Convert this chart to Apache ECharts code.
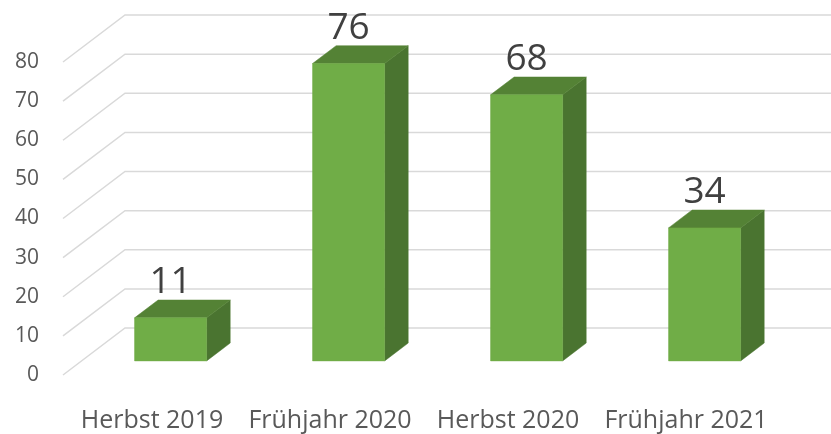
<!DOCTYPE html>
<html>
<head>
<meta charset="utf-8">
<script src="https://cdn.jsdelivr.net/npm/echarts@6/dist/echarts.min.js"></script>
<style>
  html, body { margin: 0; padding: 0; background: #fff; }
  #chart { width: 831px; height: 434px; }
</style>
</head>
<body>
<div id="chart"></div>
<script>
var categories = ['Herbst 2019', 'Frühjahr 2020', 'Herbst 2020', 'Frühjahr 2021'];
var values = [11, 76, 68, 34];
var ticks = [0, 10, 20, 30, 40, 50, 60, 70, 80];

// 3D look: depth vector of the floor, in pixels
var DEPTH_X = 62;
var DEPTH_Y = -47;
var BAR_FRONT = 0.3;   // bar front face depth (fraction)
var BAR_BACK = 0.68;   // bar back face depth
var BAR_WIDTH = 0.405; // share of a category band

var font = '"Open Sans", "Noto Sans", sans-serif';

var chart = echarts.init(document.getElementById('chart'));

// grid lines: side wall diagonal + back wall line
var renderGridLine = function(params, api) {
    var cs = params.coordSys;
    var y = api.coord([0, api.value(1)])[1];
    var x0 = cs.x;
    return {
        type: 'polyline',
        shape: {
            points: [
                [x0, y],
                [x0 + DEPTH_X, y + DEPTH_Y],
                [x0 + cs.width + DEPTH_X + 20, y + DEPTH_Y]
            ]
        },
        style: { stroke: '#d9d9d9', lineWidth: 1.5, fill: null },
        silent: true
    };
};

var renderBar = function(params, api) {
    var top = api.coord([api.value(0), api.value(1)]);
    var base = api.coord([api.value(0), 0]);
    var w = api.size([1, 0])[0] * BAR_WIDTH;
    var fx = BAR_FRONT * DEPTH_X, fy = BAR_FRONT * DEPTH_Y;
    var bx = BAR_BACK * DEPTH_X, by = BAR_BACK * DEPTH_Y;
    var l = top[0] - w / 2 + fx, r = top[0] + w / 2 + fx;
    var t = top[1] + fy, b = base[1] + fy;
    var dx = bx - fx, dy = by - fy;
    return {
        type: 'group',
        children: [
            {
                type: 'polygon',
                shape: { points: [[r, t], [r + dx, t + dy], [r + dx, b + dy], [r, b]] },
                style: { fill: '#4a7430', stroke: '#4a7430', lineWidth: 0.5 }
            },
            {
                type: 'polygon',
                shape: { points: [[l, t], [l + dx, t + dy], [r + dx, t + dy], [r, t]] },
                style: { fill: '#548235', stroke: '#548235', lineWidth: 0.5 }
            },
            {
                type: 'rect',
                shape: { x: l, y: t, width: r - l, height: b - t },
                style: { fill: '#70ad47', stroke: '#70ad47', lineWidth: 0.5 }
            },
            {
                type: 'text',
                x: (l + r) / 2,
                y: t + dy + 1,
                style: {
                    text: String(api.value(1)),
                    fill: '#404040',
                    font: '37px ' + font,
                    textAlign: 'center',
                    textVerticalAlign: 'bottom'
                }
            }
        ]
    };
};

chart.setOption({
    animation: false,
    grid: { left: 63, right: 56, top: 62, bottom: 59 },
    xAxis: {
        type: 'category',
        data: categories,
        axisLine: { show: false },
        axisTick: { show: false },
        axisLabel: { color: '#595959', fontSize: 25, fontFamily: font, margin: 33, interval: 0 }
    },
    yAxis: {
        type: 'value',
        min: 0,
        max: 80,
        interval: 10,
        axisLine: { show: false },
        axisTick: { show: false },
        splitLine: { show: false },
        axisLabel: { color: '#595959', fontSize: 21, fontFamily: font, margin: 24 }
    },
    series: [
        {
            type: 'custom',
            renderItem: renderGridLine,
            data: ticks.map(function(v) { return [0, v]; }),
            encode: { x: 0, y: 1 },
            z: 1,
            clip: false
        },
        {
            type: 'custom',
            renderItem: renderBar,
            data: values.map(function(v, i) { return [i, v]; }),
            encode: { x: 0, y: 1 },
            z: 2,
            clip: false
        }
    ]
});
</script>
</body>
</html>
